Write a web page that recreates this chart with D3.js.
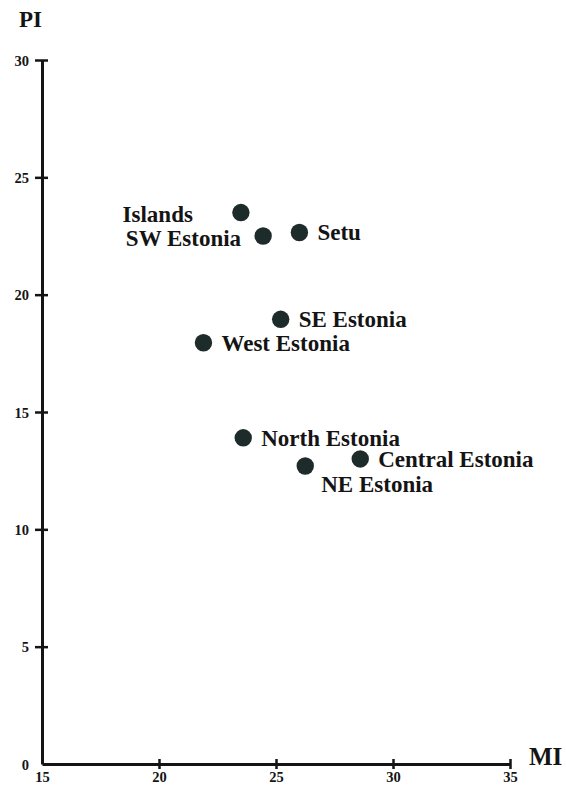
<!DOCTYPE html>
<html>
<head>
<meta charset="utf-8">
<script src="https://cdn.jsdelivr.net/npm/d3@7"></script>
<style>
  html, body { margin: 0; padding: 0; background: #fff; }
  svg { display: block; }
  text { font-family: "Liberation Serif", "Times New Roman", serif; font-weight: bold; fill: #141414; }
</style>
</head>
<body>
<svg id="chart" width="566" height="789"></svg>
<script>
// Regions of Estonia plotted by MI (x) and PI (y)
const regions = ["Islands", "SW Estonia", "Setu", "SE Estonia", "West Estonia",
                 "North Estonia", "Central Estonia", "NE Estonia"];
const miValues = [23.5, 24.45, 26.0, 25.2, 21.9, 23.6, 28.6, 26.25];
const piValues = [23.5, 22.5, 22.65, 18.95, 17.95, 13.9, 13.0, 12.7];
// which side of its dot each label sits on
const labelSide = ["left", "left", "right", "right", "right", "right", "right", "below"];
const xTicks = [15, 20, 25, 30, 35];
const yTicks = [0, 5, 10, 15, 20, 25, 30];

const svg = d3.select("#chart");
const x = d3.scaleLinear().domain([15, 35]).range([42, 510]);
const y = d3.scaleLinear().domain([0, 30]).range([764, 60]);
const ink = "#141414";

// y axis
const yAxis = svg.append("g").attr("transform", `translate(${x(15)},0)`)
  .call(d3.axisLeft(y).tickValues(yTicks).tickSize(0).tickPadding(13));
yAxis.select(".domain").attr("stroke", ink).attr("stroke-width", 3);
yAxis.selectAll(".tick text").attr("font-size", 14.5).attr("dy", "0.35em");
yAxis.selectAll(".tick").filter(d => d > 0).append("line")
  .attr("x1", -7).attr("x2", 6).attr("stroke", ink).attr("stroke-width", 2.5);

// x axis
const xAxis = svg.append("g").attr("transform", `translate(0,${y(0)})`)
  .call(d3.axisBottom(x).tickValues(xTicks).tickSize(0).tickPadding(8));
xAxis.select(".domain").attr("stroke", ink).attr("stroke-width", 3);
xAxis.selectAll(".tick text").attr("font-size", 14.5);
xAxis.selectAll(".tick").filter(d => d > 15).append("line")
  .attr("y1", -5).attr("y2", 5).attr("stroke", ink).attr("stroke-width", 2.5);
svg.selectAll(".tick text").attr("fill", ink);

// axis titles
svg.append("text").attr("x", 19).attr("y", 27).attr("font-size", 23).text("PI");
svg.append("text").attr("x", 529).attr("y", 765).attr("font-size", 25).text("MI");

// points
const pts = regions.map((r, i) => ({ name: r, mi: miValues[i], pi: piValues[i], side: labelSide[i] }));
svg.append("g").selectAll("circle").data(pts).join("circle")
  .attr("cx", d => x(d.mi)).attr("cy", d => y(d.pi)).attr("r", 8.7)
  .attr("fill", "#1d2b2b");

// labels
svg.append("g").selectAll("text").data(pts).join("text")
  .attr("font-size", 23)
  .attr("text-anchor", d => d.side === "left" ? "end" : "start")
  .attr("x", d => {
    if (d.side === "left") return x(d.mi) - (d.name === "Islands" ? 48 : 22);
    if (d.side === "below") return x(d.mi) + 16;
    return x(d.mi) + 18;
  })
  .attr("y", d => {
    if (d.side === "below") return y(d.pi) + 26;
    if (d.name === "Islands") return y(d.pi) + 9;
    if (d.name === "SW Estonia") return y(d.pi) + 10;
    return y(d.pi) + 8;
  })
  .text(d => d.name);
</script>
</body>
</html>
